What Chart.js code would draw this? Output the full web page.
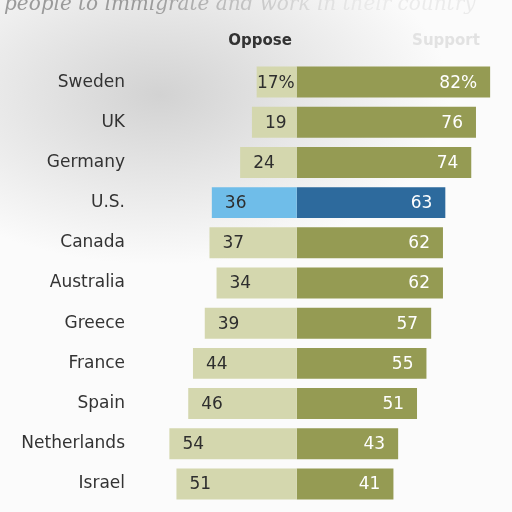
<!DOCTYPE html>
<html>
<head>
<meta charset="utf-8">
<script src="https://cdn.jsdelivr.net/npm/chart.js@4.4.1/dist/chart.umd.min.js"></script>
<style>
  html, body { margin: 0; padding: 0; }
  body {
    width: 512px; height: 512px; overflow: hidden;
    background:
      radial-gradient(ellipse 290px 170px at 160px 95px, rgba(170,170,170,0.5), rgba(255,255,255,0) 100%),
      #fbfbfb;
  }
  #wrap { position: relative; width: 512px; height: 512px; }
</style>
</head>
<body>
<div id="wrap"><canvas id="chart" width="512" height="512"></canvas></div>
<script>
const countries = ['Sweden', 'UK', 'Germany', 'U.S.', 'Canada', 'Australia', 'Greece', 'France', 'Spain', 'Netherlands', 'Israel'];
const oppose = [17, 19, 24, 36, 37, 34, 39, 44, 46, 54, 51];
const support = [82, 76, 74, 63, 62, 62, 57, 55, 51, 43, 41];
const highlight = 'U.S.';

const opposeColor = '#d4d7ae';
const supportColor = '#959b53';
const opposeHl = '#6fbde9';
const supportHl = '#2d6a9d';

const fontFamily = "'DejaVu Sans', sans-serif";

// headers, faded title line and the numbers on the bars
const labelPlugin = {
  id: 'labels',
  afterDatasetsDraw(chart) {
    const ctx = chart.ctx;
    ctx.save();

    const grad = ctx.createLinearGradient(150, 0, 360, 0);
    grad.addColorStop(0, '#9a9a9a');
    grad.addColorStop(1, 'rgba(225,225,225,0.6)');
    ctx.fillStyle = grad;
    ctx.font = "italic 20px 'DejaVu Serif', serif";
    ctx.textBaseline = 'alphabetic';
    ctx.textAlign = 'left';
    ctx.fillText('people to immigrate and work in their country', 4, 10);

    ctx.textBaseline = 'middle';
    ctx.textAlign = 'center';
    ctx.font = 'bold 15px ' + fontFamily;
    ctx.fillStyle = '#333';
    ctx.fillText('Oppose', 260, 41);
    ctx.fillStyle = '#e2e2e2';
    ctx.fillText('Support', 446, 41);

    ctx.font = '17px ' + fontFamily;
    chart.getDatasetMeta(0).data.forEach((bar, i) => {
      const txt = oppose[i] + (i === 0 ? '%' : '');
      const w = ctx.measureText(txt).width;
      ctx.fillStyle = '#2e2e2e';
      ctx.textAlign = 'left';
      ctx.fillText(txt, Math.min(bar.x + 13, bar.base - w - 2), bar.y + 1);
    });
    chart.getDatasetMeta(1).data.forEach((bar, i) => {
      ctx.fillStyle = '#ffffff';
      ctx.textAlign = 'right';
      ctx.fillText(support[i] + (i === 0 ? '%' : ''), bar.x - 13, bar.y + 1);
    });
    ctx.restore();
  }
};

new Chart(document.getElementById('chart'), {
  type: 'bar',
  data: {
    labels: countries,
    datasets: [
      {
        label: 'Oppose',
        data: oppose.map(v => -v),
        backgroundColor: countries.map(c => c === highlight ? opposeHl : opposeColor),
        borderWidth: 0
      },
      {
        label: 'Support',
        data: support,
        backgroundColor: countries.map(c => c === highlight ? supportHl : supportColor),
        borderWidth: 0
      }
    ]
  },
  options: {
    indexAxis: 'y',
    responsive: false,
    animation: false,
    categoryPercentage: 1,
    barPercentage: 0.77,
    layout: { padding: { top: 62, bottom: 8, left: 0, right: 3 } },
    scales: {
      x: {
        stacked: true,
        display: false,
        min: -69,
        max: 90
      },
      y: {
        stacked: true,
        grid: { display: false, drawTicks: false },
        border: { display: false },
        ticks: {
          color: '#333',
          padding: 9,
          font: { family: fontFamily, size: 17 }
        },
        afterFit(axis) {
          axis.width = 134;
          axis.paddingTop = 0;
          axis.paddingBottom = 0;
        }
      }
    },
    plugins: {
      legend: { display: false },
      tooltip: { enabled: false }
    }
  },
  plugins: [labelPlugin]
});
</script>
</body>
</html>
